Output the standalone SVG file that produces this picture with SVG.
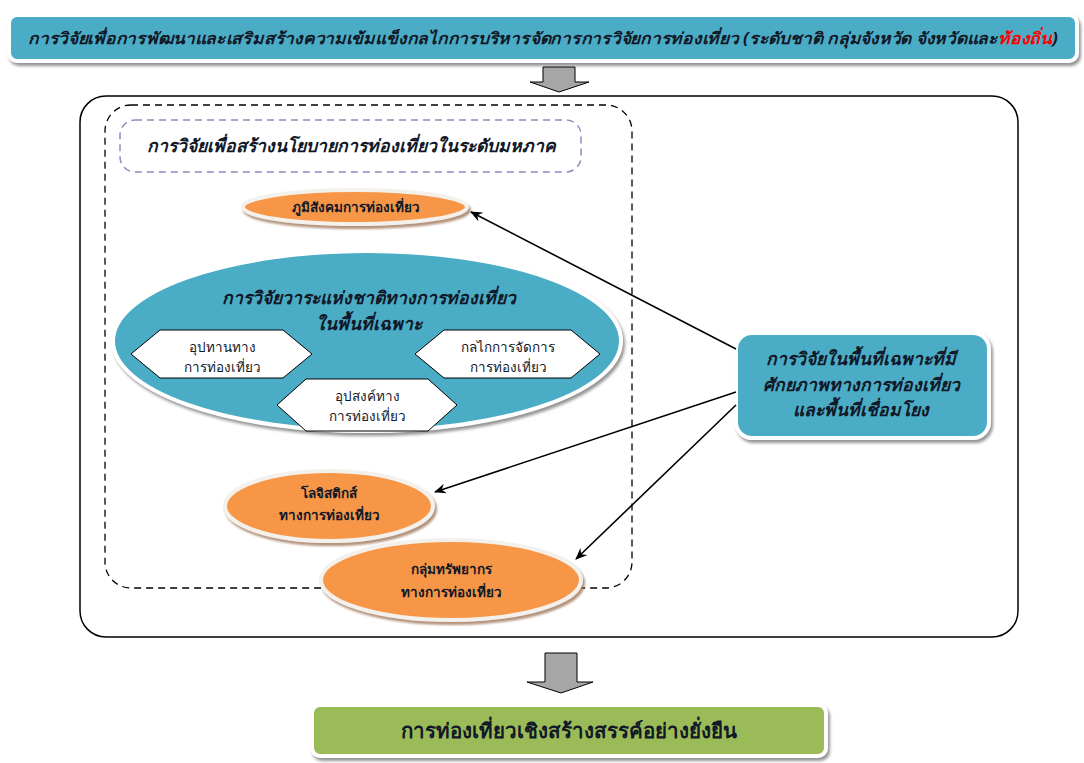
<svg xmlns="http://www.w3.org/2000/svg" width="1084" height="763" viewBox="0 0 1084 763">
<defs>
<filter id="sh" x="-10%" y="-20%" width="120%" height="150%">
<feDropShadow dx="2" dy="3" stdDeviation="1.5" flood-color="#7a7a7a" flood-opacity="0.8"/>
</filter>
<filter id="shb" x="-10%" y="-20%" width="120%" height="150%">
<feDropShadow dx="2" dy="3" stdDeviation="1.2" flood-color="#a0785a" flood-opacity="0.8"/>
</filter>
<marker id="ah" viewBox="0 0 12 10" refX="11" refY="5" markerWidth="12" markerHeight="10" markerUnits="userSpaceOnUse" orient="auto">
<path d="M0,0 L12,5 L0,10 L4,5 Z" fill="#000"/>
</marker>
</defs>
<style>
text{font-family:"Noto Sans","DejaVu Sans",sans-serif;fill:#111827;text-anchor:middle;}
.bi{font-weight:bold;font-style:italic;font-size:17.5px;}
.b{font-weight:bold;}
.teal{fill:#4BACC6;stroke:#fff;stroke-width:4;}
.orange{fill:#F79646;stroke:#f4f0ec;stroke-width:4;}
.hex{fill:#fff;stroke:#000;stroke-width:1;}
.conn{stroke:#000;stroke-width:1.6;fill:none;marker-end:url(#ah);}
.blk{fill:#a6a6a6;stroke:#000;stroke-width:1;}
.sm{font-size:13.5px;}
</style>
<rect width="1084" height="763" fill="#fff"/>

<g id="banner">
<rect class="teal" x="9" y="15" width="1068" height="46" rx="8" filter="url(#sh)"/>
<text class="bi" x="543" y="44" style="font-size:16px" textLength="1030" lengthAdjust="spacingAndGlyphs">การวิจัยเพื่อการพัฒนาและเสริมสร้างความเข้มแข็งกลไกการบริหารจัดการการวิจัยการท่องเที่ยว (ระดับชาติ กลุ่มจังหวัด จังหวัดและ<tspan style="fill:#ff0000">ท้องถิ่น</tspan>)</text>
</g>

<g id="arrow-top">
<path class="blk" d="M543,67 H575 V82 H589 L559,92 L530,82 H543 Z"/>
</g>

<g id="outer-frame">
<rect x="80" y="96" width="938" height="541" rx="26" fill="none" stroke="#000" stroke-width="1.5"/>
</g>

<g id="dashed-frame">
<rect x="105" y="105" width="527" height="483" rx="26" fill="none" stroke="#000" stroke-width="1.3" stroke-dasharray="7,5"/>
</g>

<g id="macro-policy">
<rect x="120" y="120" width="461" height="52" rx="15" fill="none" stroke="#9A86C0" stroke-width="1.5" stroke-dasharray="7,5"/>
<text class="bi" x="351" y="152">การวิจัยเพื่อสร้างนโยบายการท่องเที่ยวในระดับมหภาค</text>
</g>

<g id="socio">
<ellipse class="orange" cx="355" cy="207" rx="112" ry="17" filter="url(#shb)"/>
<text class="b sm" x="356" y="212">ภูมิสังคมการท่องเที่ยว</text>
</g>

<g id="national-agenda">
<ellipse class="teal" cx="367" cy="341" rx="254" ry="90" filter="url(#sh)"/>
<text class="bi" x="369" y="304">การวิจัยวาระแห่งชาติทางการท่องเที่ยว</text>
<text class="bi" x="369" y="330">ในพื้นที่เฉพาะ</text>
</g>

<g id="supply">
<polygon class="hex" points="131,354 160,330 283,330 312,354 283,378 160,378"/>
<text class="sm" x="222" y="352">อุปทานทาง</text>
<text class="sm" x="222" y="372">การท่องเที่ยว</text>
</g>

<g id="mechanism">
<polygon class="hex" points="415,354 444,330 571,330 600,354 571,378 444,378"/>
<text class="sm" x="508" y="352">กลไกการจัดการ</text>
<text class="sm" x="508" y="372">การท่องเที่ยว</text>
</g>

<g id="demand">
<polygon class="hex" points="277,405 306,379 428,379 457,405 428,431 306,431"/>
<text class="sm" x="367" y="401">อุปสงค์ทาง</text>
<text class="sm" x="367" y="421">การท่องเที่ยว</text>
</g>

<g id="logistics">
<ellipse class="orange" cx="329" cy="506" rx="104" ry="35" filter="url(#shb)"/>
<text class="b sm" x="329" y="498">โลจิสติกส์</text>
<text class="b sm" x="329" y="520">ทางการท่องเที่ยว</text>
</g>

<g id="resources">
<ellipse class="orange" cx="451" cy="580" rx="130" ry="40" filter="url(#shb)"/>
<text class="b sm" x="451" y="574">กลุ่มทรัพยากร</text>
<text class="b sm" x="451" y="597">ทางการท่องเที่ยว</text>
</g>

<g id="specific-area">
<rect class="teal" x="736" y="333" width="253" height="105" rx="16" filter="url(#sh)"/>
<text class="bi" x="861" y="365">การวิจัยในพื้นที่เฉพาะที่มี</text>
<text class="bi" x="861" y="391">ศักยภาพทางการท่องเที่ยว</text>
<text class="bi" x="861" y="416">และพื้นที่เชื่อมโยง</text>
</g>

<g id="connectors">
<line class="conn" x1="736" y1="349" x2="471" y2="212"/>
<line class="conn" x1="736" y1="392" x2="435" y2="492"/>
<line class="conn" x1="736" y1="405" x2="576" y2="559"/>
</g>

<g id="arrow-bottom">
<path class="blk" d="M545,653 H577 V682 H593 L561,693 L527,682 H545 Z"/>
</g>

<g id="result">
<rect x="312" y="705" width="514" height="51" rx="8" fill="#9BBB59" stroke="#fff" stroke-width="4" filter="url(#sh)"/>
<text class="b" x="569" y="738" font-size="20.5">การท่องเที่ยวเชิงสร้างสรรค์อย่างยั่งยืน</text>
</g>
</svg>
